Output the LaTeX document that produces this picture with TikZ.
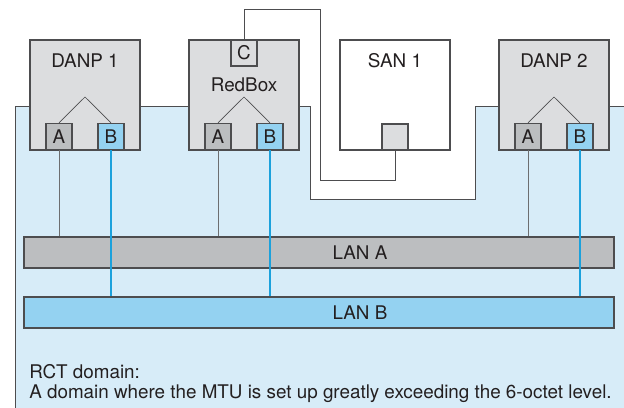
\documentclass[tikz,border=0pt]{standalone}
\usepackage{fontspec}
\setmainfont{TeX Gyre Heros}
\usepackage{tikz}
\usetikzlibrary{positioning,calc}
\usepackage{xcolor}
\definecolor{domainblue}{HTML}{D7ECF8}
\definecolor{devgray}{HTML}{DCDDDF}
\definecolor{portgray}{HTML}{BCBEC0}
\definecolor{portblue}{HTML}{94D2F1}
\definecolor{wireblue}{HTML}{1BA1DC}
\definecolor{wiregray}{HTML}{6D6E70}
\definecolor{edgegray}{HTML}{4D4D4F}
\definecolor{textgray}{HTML}{231F20}

\begin{document}
\begin{tikzpicture}[x=0.25mm,y=-0.25mm,
    every node/.style={font=\fontsize{13.4}{14.5}\selectfont,text=textgray},
    device/.style={draw=edgegray,line width=0.8pt,minimum width=27.5mm,minimum height=27.5mm,inner sep=0pt},
    port/.style={draw=edgegray,line width=0.8pt,minimum size=6.5mm,inner sep=0pt},
    lan/.style={draw=edgegray,line width=0.8pt,minimum width=147.5mm,minimum height=7.75mm,inner sep=0pt}]
    \useasboundingbox (0,0) rectangle (624,408);
    % RCT domain
    \filldraw[fill=domainblue,draw=edgegray,line width=0.7pt]
        (15,106) -- (310,106) -- (310,199) -- (475,199) -- (475,106) -- (630,106)
        -- (630,412) -- (15,412) -- cycle;
    % DANP nodes
    \foreach \n/\x/\lbl in {danpa/85/DANP 1, danpb/554/DANP 2}{
        \node[device,fill=devgray] (\n) at (\x,95) {};
        \node (\n label) at (\x,61) {\lbl};
        \node[port,fill=portgray] (\n A) at (\x-26,136.5) {A};
        \node[port,fill=portblue] (\n B) at (\x+26,136.5) {B};
        \coordinate (\n top) at (\x,97);
        \draw[edgegray,line width=0.5pt] (\n A.north) -- (\n top) -- (\n B.north);
    }
    % RedBox
    \node[device,fill=devgray] (redbox) at (244,95) {};
    \node (redboxlabel) at (244,85) {RedBox};
    \node[port,fill=devgray,anchor=north] (redboxC) at (redbox.north) {C};
    \node[port,fill=portgray] (redboxA) at (218,136.5) {A};
    \node[port,fill=portblue] (redboxB) at (270,136.5) {B};
    \coordinate (redboxtop) at (244,97);
    \draw[edgegray,line width=0.5pt] (redboxA.north) -- (redboxtop) -- (redboxB.north);
    % SAN 1
    \node[device,fill=white] (san) at (395,95) {};
    \node (sanlabel) at (395,61) {SAN 1};
    \node[port,fill=devgray,anchor=south] (sanport) at (san.south) {};
    \coordinate (bendup) at (320,9);
    \coordinate (benddown) at (320,180);
    \draw[edgegray,line width=0.7pt] (redboxC.north) |- (bendup) -- (benddown) -| (sanport.south);
    % LANs
    \node[lan,fill=portgray] (lana) at (319,252.5) {};
    \node (lanalabel) at (360,252.5) {LAN A};
    \node[lan,fill=portblue] (lanb) at (319,312.5) {};
    \node (lanblabel) at (360,312.5) {LAN B};
    \foreach \n in {danpa,redbox,danpb}{
        \draw[wiregray,line width=0.7pt] (\n A.south) -- (\n A |- lana.north);
        \draw[wireblue,line width=0.8pt] (\n B.south) -- (\n B |- lanb.north);
    }
    \node[anchor=north west,align=left,inner sep=0pt] (rct) at (29,364)
        {RCT domain:\\A domain where the MTU is set up greatly exceeding the 6-octet level.};
\end{tikzpicture}
\end{document}
